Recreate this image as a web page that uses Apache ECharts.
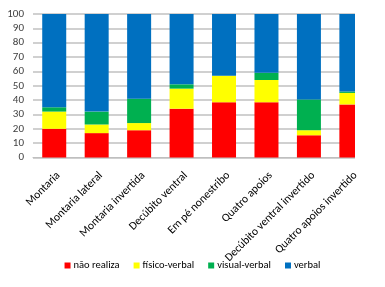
<!DOCTYPE html>
<html>
<head>
    <meta charset="utf-8">
    <title>Desempenho por posição</title>
    <script src="https://cdn.jsdelivr.net/npm/echarts@6/dist/echarts.min.js"></script>
    <style type="text/css">
        * { margin: 0; padding: 0; }
        body { background: #fff; }
        #main { width: 385px; height: 287px; }
    </style>
</head>
<body>
<div id="main"></div>
<script type="text/javascript">
    var categories = ['Montaria', 'Montaria lateral', 'Montaria invertida', 'Decúbito ventral',
        'Em pé nonestribo', 'Quatro apoios', 'Decúbito ventral invertido', 'Quatro apoios invertido'];
    var naoRealiza = [20, 17, 19, 34, 38.5, 38.5, 15.5, 37];
    var fisicoVerbal = [12, 6, 5, 14, 18.5, 15.5, 3.5, 8];
    var visualVerbal = [3, 9, 17, 3, 0, 5, 21.5, 1];
    var verbal = [65, 68, 59, 49, 43, 41, 59.5, 54];
    var yTicks = [0, 10, 20, 30, 40, 50, 60, 70, 80, 90, 100];

    var font = 'Carlito, Lato, sans-serif';
    var myChart = echarts.init(document.getElementById('main'));

    function mkSeries(name, data, color) {
        return {
            name: name,
            type: 'bar',
            stack: 'total',
            barWidth: 24,
            data: data,
            itemStyle: { color: color },
            emphasis: { disabled: true }
        };
    }

    var option = {
        animation: false,
        textStyle: { fontFamily: font },
        grid: { left: 33, right: 12.4, top: 14, bottom: 129.5 },
        // the original picture is cut off at the right, through the last bar
        graphic: [{
            type: 'rect',
            z: 100,
            shape: { x: 355, y: 0, width: 30, height: 160 },
            style: { fill: '#fff' }
        }],
        legend: {
            bottom: 11,
            left: 'center',
            itemWidth: 6,
            itemHeight: 6,
            itemGap: 14,
            icon: 'rect',
            textStyle: { fontSize: 10.5, color: '#000', fontFamily: font, padding: [0, 0, 0, -2] },
            data: ['não realiza', 'físico-verbal', 'visual-verbal', 'verbal']
        },
        xAxis: {
            type: 'category',
            data: categories,
            axisLine: { lineStyle: { color: '#BFBFBF', width: 1 } },
            axisTick: { show: false },
            axisLabel: {
                interval: 0,
                rotate: 45,
                fontSize: 11.5,
                color: '#000',
                fontFamily: font,
                verticalAlign: 'top',
                margin: 12
            }
        },
        yAxis: {
            type: 'value',
            min: yTicks[0],
            max: yTicks[yTicks.length - 1],
            interval: 10,
            axisLine: { show: false },
            axisTick: { show: false },
            splitLine: { lineStyle: { color: '#C0C0C0', width: 1.5 } },
            axisLabel: { fontSize: 11, color: '#404040', fontFamily: font, margin: 9 }
        },
        series: [
            mkSeries('não realiza', naoRealiza, '#FF0000'),
            mkSeries('físico-verbal', fisicoVerbal, '#FFFF00'),
            mkSeries('visual-verbal', visualVerbal, '#00B050'),
            mkSeries('verbal', verbal, '#0070C0')
        ]
    };
    myChart.setOption(option);
</script>
</body>
</html>
